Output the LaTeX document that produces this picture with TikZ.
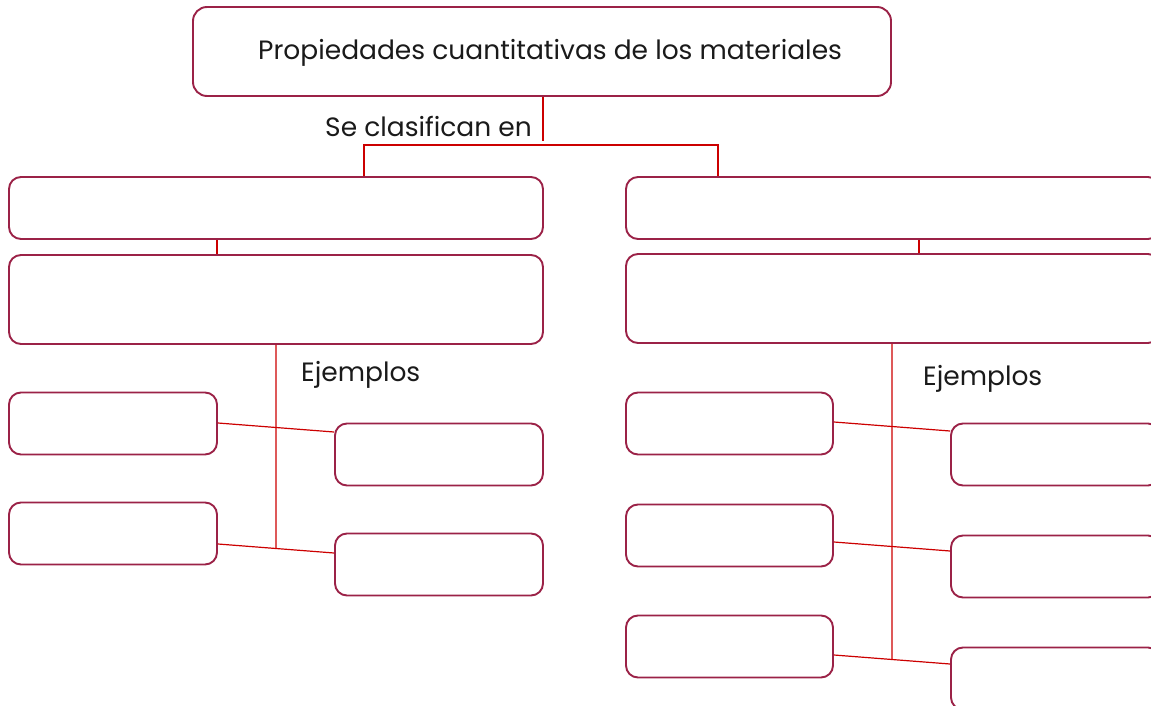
\documentclass[tikz,border=0pt]{standalone}
\usepackage{fontspec}
\setmainfont{Poppins}
\usetikzlibrary{calc}
\definecolor{boxc}{HTML}{9B2247}
\definecolor{linec}{HTML}{CC0000}
\definecolor{txt}{HTML}{1A1A1A}
\begin{document}
\begin{tikzpicture}[x=1pt,y=-1pt,
  box/.style={draw=boxc, line width=1.9pt, rounded corners=12pt, fill=white, inner sep=0pt},
  conn/.style={draw=linec, line width=1.2pt},
  lbl/.style={text=txt, font=\fontsize{26.5}{30}\selectfont, inner sep=0pt, anchor=base west}]
\useasboundingbox (0,0) rectangle (1151,706);
\clip (0,0) rectangle (1151,706);
% top
\node[box, rounded corners=14pt, minimum width=698pt, minimum height=89pt] (top) at (542,51.5) {};
\node[lbl] (title) at (258,60) {Propiedades cuantitativas de los materiales};
\node[lbl] (clas) at (325,137) {Se clasifican en};
% level 1
\node[box, minimum width=534pt, minimum height=62pt] (c1L) at (276,208) {};
\node[box, minimum width=534pt, minimum height=62pt] (c1R) at (893,208) {};
% level 2
\node[box, minimum width=534pt, minimum height=89pt] (c2L) at (276,299.5) {};
\node[box, minimum width=534pt, minimum height=89pt] (c2R) at (893,298.5) {};
\node[lbl] (ejL) at (301,381) {Ejemplos};
\node[lbl] (ejR) at (923,385) {Ejemplos};
% left examples
\node[box, minimum width=208pt, minimum height=62pt] (a1) at (113,423.5) {};
\node[box, minimum width=208pt, minimum height=62pt] (a2) at (113,533.5) {};
\node[box, minimum width=208pt, minimum height=62pt] (b1) at (439,454.5) {};
\node[box, minimum width=208pt, minimum height=62pt] (b2) at (439,564.5) {};
% right examples
\node[box, minimum width=207pt, minimum height=62pt] (r1) at (729.5,423.5) {};
\node[box, minimum width=207pt, minimum height=62pt] (r2) at (729.5,535.5) {};
\node[box, minimum width=207pt, minimum height=62pt] (r3) at (729.5,646.5) {};
\node[box, minimum width=209pt, minimum height=62pt] (s1) at (1055.5,454.5) {};
\node[box, minimum width=209pt, minimum height=62pt] (s2) at (1055.5,566.5) {};
\node[box, minimum width=209pt, minimum height=62pt] (s3) at (1055.5,678.5) {};
% top connectors
\coordinate (tj) at ($(top.south)+(1,44)$);
\draw[conn] ([xshift=1pt]top.south) -- (tj);
\coordinate (hl) at ($(c1L.north)+(88,-31)$);
\coordinate (hr) at ($(c1R.north)+(-175,-31)$);
\draw[conn] ([xshift=88pt]c1L.north) -- (hl) -- (hr) -- ([xshift=-175pt]c1R.north);
% level1 -> level2
\draw[conn] ([xshift=-59pt]c1L.south) -- ([xshift=-59pt]c2L.north);
\draw[conn] ([xshift=26pt]c1R.south) -- ([xshift=26pt]c2R.north);
% left example links
\coordinate (b1e) at ([yshift=22.5pt]b1.west);
\coordinate (b2e) at ([yshift=11.5pt]b2.west);
\coordinate (a1s) at ([yshift=0.5pt]a1.east);
\coordinate (a2s) at ([yshift=-10.5pt]a2.east);
\draw[conn] (a1s) -- (b1e);
\draw[conn] (a2s) -- (b2e);
\draw[conn] (c2L.south) -- (intersection of {c2L.south}--{c1L.south} and {a2s}--{b2e});
% right example links
\coordinate (s1e) at ([yshift=23.5pt]s1.west);
\coordinate (s2e) at ([yshift=15.5pt]s2.west);
\coordinate (s3e) at ([yshift=14.5pt]s3.west);
\coordinate (r1s) at ([yshift=1.5pt]r1.east);
\coordinate (r2s) at ([yshift=-6.5pt]r2.east);
\coordinate (r3s) at ([yshift=-8.5pt]r3.east);
\draw[conn] (r1s) -- (s1e);
\draw[conn] (r2s) -- (s2e);
\draw[conn] (r3s) -- (s3e);
\coordinate (vRt) at ([xshift=-1pt]c2R.south);
\draw[conn] (vRt) -- (intersection of {vRt}--{[xshift=-1pt]c1R.south} and {r3s}--{s3e});
\end{tikzpicture}
\end{document}
